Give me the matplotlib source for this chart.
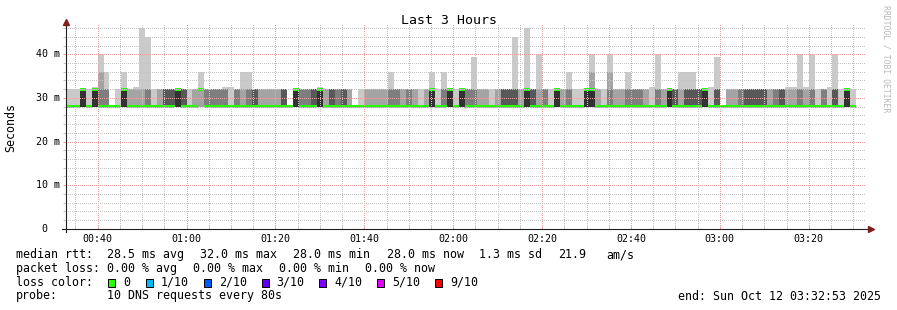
"""SmokePing style latency chart: Last 3 Hours of DNS probe rtt (smoke + median)."""
import numpy as np
import matplotlib
matplotlib.use("Agg")
import matplotlib.pyplot as plt
from matplotlib.patches import Rectangle
from matplotlib.ticker import MultipleLocator

# ---- data -------------------------------------------------------------------
# each 80 s step holds 10 pings: `fast_count` of them at 28 ms, the rest at 32 ms,
# except the slowest (and for a few steps the second slowest) ping
fast_count = [
    9, 9, 9, 5, 9, 5, 7, 7, 10, 9,
    5, 8, 8, 8, 7, 9, 8, 6, 6, 5,
    6, 9, 8, 2, 7, 7, 7, 7, 9, 7,
    8, 7, 6, 8, 8, 8, 8, 6, 10, 5,
    7, 7, 6, 5, 8, 6, 7, 6, 8, 10,
    9, 8, 8, 8, 8, 7, 7, 8, 7, 8,
    9, 8, 5, 9, 7, 5, 9, 5, 7, 7,
    8, 8, 9, 8, 6, 6, 6, 8, 5, 6,
    8, 7, 9, 5, 8, 7, 9, 9, 5, 5,
    8, 9, 7, 8, 8, 7, 7, 7, 8, 9,
    7, 8, 5, 6, 8, 6, 6, 6, 5, 9,
    6, 10, 8, 8, 7, 6, 6, 6, 6, 8,
    7, 6, 8, 8, 7, 8, 7, 9, 7, 9,
    6, 9, 5, 9,
]
slowest_ms = [
    32, 32, 32, 32, 32, 32.5, 40, 36, 28, 32,
    36, 32, 32.5, 46, 44, 32, 32, 32, 32, 32,
    32, 32, 32, 36, 32, 32, 32, 32.5, 32.5, 32,
    36, 36, 32, 32, 32, 32, 32, 32, 28, 32,
    32, 32, 32, 32.5, 32, 32, 32, 32, 32, 28,
    32, 32, 32, 32, 32, 36, 32, 32, 32, 32,
    32, 32, 36, 32, 36, 32, 32, 32, 32, 39.5,
    32, 32, 32, 32, 32, 32, 44, 32, 46, 32,
    40, 32, 32, 32, 32, 36, 32, 32, 32, 40,
    32, 32, 40, 32, 32, 36, 32, 32, 32, 32.5,
    40, 32, 32, 32, 36, 36, 36, 32, 32, 32.5,
    39.5, 28, 32, 32, 32, 32, 32, 32, 32, 32,
    32, 32, 32.5, 32.5, 40, 32.5, 40, 32, 32, 32.5,
    40, 32, 32, 32,
]
second_slowest_ms = {6: 36, 89: 36, 92: 36}
FAST_MS, SLOW_MS = 28.0, 32.0

first_step_end_s = 2000          # 00:33:20
step_s = 80
view_start_s, view_end_s = 1973, 12773   # 00:32:53 .. 03:32:53

time_ticks_s = [2400, 3600, 4800, 6000, 7200, 8400, 9600, 10800, 12000]
time_labels = ["00:40", "01:00", "01:20", "01:40", "02:00", "02:20", "02:40", "03:00", "03:20"]
y_ticks = [0, 10, 20, 30, 40]
y_labels = ["0", "10 m", "20 m", "30 m", "40 m"]

rtt_stats = [28.5, 32.0, 28.0, 28.0]
loss_stats = [0.0, 0.0, 0.0, 0.0]
stat_names = ["avg", "max", "min", "now"]
rtt_sd = 1.3
am_per_s = 21.9
loss_levels = ["0", "1/10", "2/10", "3/10", "4/10", "5/10", "9/10"]
loss_colors = ["#26ff00", "#00b8ff", "#0059ff", "#5e00ff", "#7e00ff", "#dd00ff", "#ff0000"]
probe_text = "10 DNS requests every 80s"
end_text = "end: Sun Oct 12 03:32:53 2025"

# ---- build pings ------------------------------------------------------------
n = len(fast_count)
starts = first_step_end_s - step_s + step_s * np.arange(n)
edges = np.append(starts, starts[-1] + step_s)

pings = np.zeros((n, 10))
for i in range(n):
    p = [FAST_MS] * fast_count[i] + [SLOW_MS] * (10 - fast_count[i])
    p[9] = slowest_ms[i]
    if i in second_slowest_ms:
        p[8] = second_slowest_ms[i]
    pings[i] = sorted(p)
median = pings[:, 5]


def ext(a):
    return np.append(a, a[-1])


# ---- figure -----------------------------------------------------------------
W, H = 897, 310
FONT = "DejaVu Sans Mono"
plt.rcParams["font.family"] = FONT

GRID = "#c4c4c4"
MGRID = "#eca0a0"
ARROW = (0.5, 0.12, 0.12)
AXIS = (0.12, 0.12, 0.12)

fig = plt.figure(figsize=(W / 100, H / 100), dpi=100, facecolor="white")
ax_left, ax_bottom, ax_w, ax_h = 66, 228.7, 800, 206.2
ax = fig.add_axes([ax_left / W, 1 - ax_bottom / H, ax_w / W, ax_h / H])
ax.set_xlim(view_start_s, view_end_s)
ax.set_ylim(0, 47.3)
for s in ax.spines.values():
    s.set_visible(False)

# smoke: layer k spans ping k .. ping 9-k, darker towards the middle
half = 5
for k in range(half):
    g = int(190 / half * (half - (k + 1))) + 50
    ax.fill_between(edges, ext(pings[:, k]), ext(pings[:, 9 - k]), step="post",
                    color=(g / 255,) * 3, linewidth=0, antialiased=False, zorder=1)

# median band
ax.fill_between(edges, ext(median - 0.3), ext(median + 0.3), step="post",
                color=loss_colors[0], linewidth=0, antialiased=False, zorder=1.5)

# grid on top of data, dotted like rrdtool
ax.set_axisbelow(False)
ax.set_xticks(time_ticks_s, time_labels)
ax.xaxis.set_minor_locator(MultipleLocator(300))
ax.set_yticks(y_ticks)
ax.yaxis.set_minor_locator(MultipleLocator(2))
ax.grid(which="minor", color=GRID, linestyle=(0, (1, 2)), linewidth=0.72, antialiased=False)
ax.grid(which="major", color=MGRID, linestyle=(0, (1, 2)), linewidth=0.72, antialiased=False)
ax.tick_params(axis="x", which="both", direction="in", length=2.2, width=0.72,
               labelsize=7.2, pad=3.6, labelcolor="black")
ax.tick_params(axis="x", which="major", color=MGRID)
ax.tick_params(axis="x", which="minor", color=GRID)
ax.tick_params(axis="y", which="both", direction="out", length=2.2, width=0.72,
               labelleft=False)
ax.tick_params(axis="y", which="major", color=MGRID)
ax.tick_params(axis="y", which="minor", color=GRID)

for v, lab in zip(y_ticks, y_labels):
    off = -18.3 if lab == "0" else -6
    ax.text(off / ax_w, v, lab, transform=ax.get_yaxis_transform(), ha="right",
            va="center", fontsize=7.2)

# axis lines with arrows
ax.plot([-4 / ax_w, 802 / ax_w], [0, 0], color=AXIS, lw=0.8, transform=ax.transAxes,
        clip_on=False, zorder=5)
ax.plot([0, 0], [-3.3 / ax_h, 203 / ax_h], color=AXIS, lw=0.8, transform=ax.transAxes,
        clip_on=False, zorder=5)
ax.plot([804.5 / ax_w], [0], marker=">", markersize=4, color=ARROW, transform=ax.transAxes,
        clip_on=False, zorder=6)
ax.plot([0], [206.5 / ax_h], marker="^", markersize=4, color=ARROW, transform=ax.transAxes,
        clip_on=False, zorder=6)


# ---- texts ------------------------------------------------------------------
def put(x, y, s, **kw):
    kw.setdefault("fontsize", 8.35)
    kw.setdefault("va", "baseline")
    fig.text(x / W, 1 - y / H, s, **kw)


put(448.5, 24, "Last 3 Hours", ha="center", fontsize=9.5)
put(10.5, 127.5, "Seconds", ha="center", va="center", rotation=90)
put(886, 59, "RRDTOOL / TOBI OETIKER", ha="center", va="center", rotation=270,
    fontsize=5.9, color="#b8b8b8")

L1, L2, L3, L4 = 258, 272, 285.7, 299.5
put(16, L1, "median rtt:")
for x, v, nm in zip([107.3, 200, 293.3, 386.7], rtt_stats, stat_names):
    put(x, L1, f"{v:.1f} ms {nm}")
put(479.3, L1, f"{rtt_sd:.1f} ms sd")
put(558.3, L1, f"{am_per_s:.1f}")
put(606.7, L1, "am/s")

put(16, L2, "packet loss:")
for x, v, nm in zip([107.3, 193.3, 279.3, 365.3], loss_stats, stat_names):
    put(x, L2, f"{v:.2f} % {nm}")

put(16, L3, "loss color:")
box_x = [108.3, 146, 204, 261.7, 319.3, 377.3, 435.3]
for bx, lab, col in zip(box_x, loss_levels, loss_colors):
    fig.add_artist(Rectangle((bx / W, 1 - 286.5 / H), 7 / W, 7.5 / H,
                             transform=fig.transFigure, facecolor=col,
                             edgecolor="black", linewidth=0.7))
    put(bx + 15, L3, lab)

put(16, L4, "probe:")
put(107.3, L4, probe_text)
put(880.7, L4, end_text, ha="right")

fig.savefig("out.png", dpi=100, facecolor="white")
plt.close(fig)
